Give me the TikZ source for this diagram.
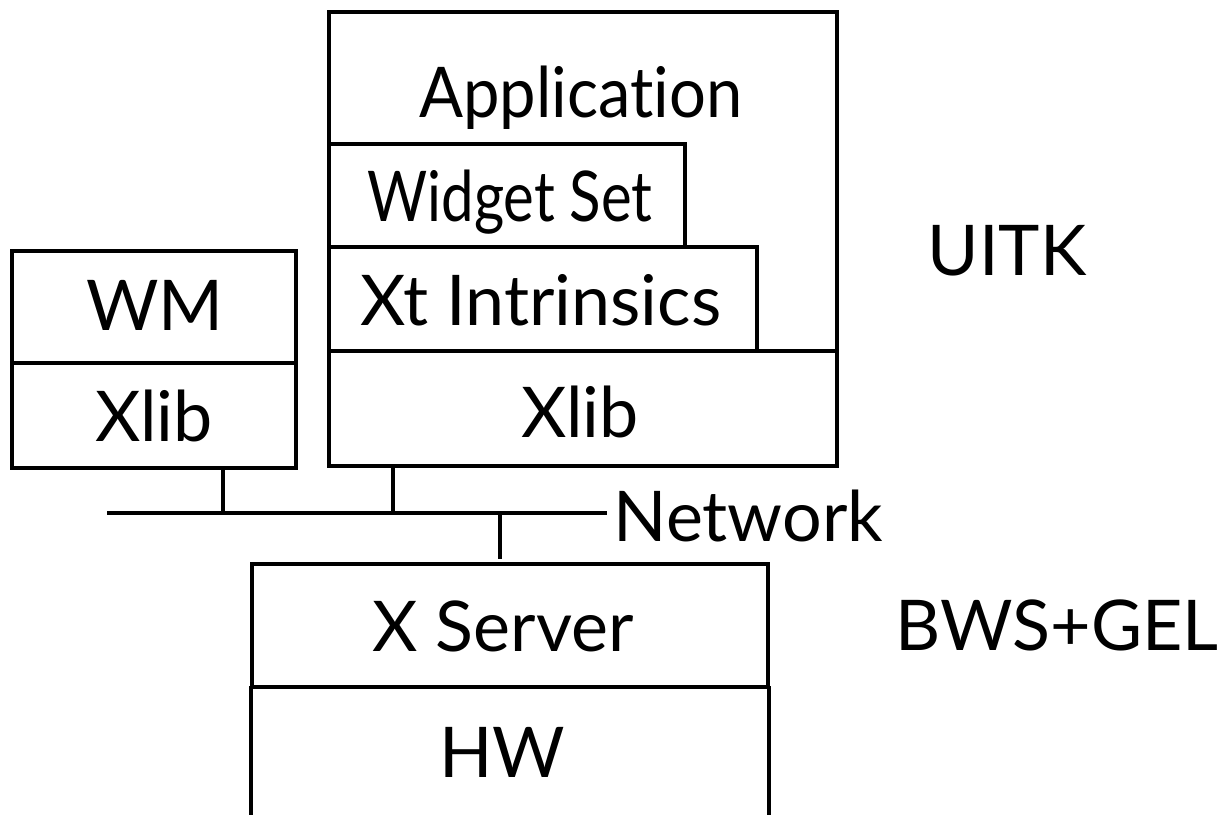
\documentclass[tikz,border=0pt]{standalone}
\usepackage{graphicx}
\usepackage{fontspec}
\setmainfont{Lato}[Ligatures=NoCommon]
\usetikzlibrary{fit}
\begin{document}
\begin{tikzpicture}[x=0.01cm,y=-0.01cm,
  lw/.style={line width=1.15pt},
  box/.style={draw,lw,inner sep=0pt,rectangle},
  area/.style={inner sep=0pt,rectangle},
  lbl/.style={inner sep=0pt,anchor=base,font=\fontsize{19.9pt}{22pt}\selectfont},
  conn/.style={lw}]
\useasboundingbox (0,0) rectangle (1224,815);
% client with toolkit
\node[box,fit={(329,12)(837,351)}] (app) {};
\node[box,fit={(329,144)(685,247)}] (widget) {};
\node[box,fit={(329,247)(757,351)}] (xt) {};
\node[box,fit={(329,351)(837,466)}] (xlibR) {};
% window manager
\node[box,fit={(12,251)(296,363)}] (wm) {};
\node[box,fit={(12,363)(296,468)}] (xlibL) {};
% server
\node[box,fit={(252,564)(768,687)}] (xserv) {};
\node[area,fit={(252,687)(768,815)}] (hw) {};
\draw[conn] (hw.south west) -- (hw.north west);
\draw[conn] (hw.north east) -- (hw.south east);
% labels
\node[lbl] (tApp) at (581,117) {\scalebox{0.93}[1]{Application}};
\node[lbl] (tWidget) at (510,221) {\scalebox{0.83}[1]{Widget Set}};
\node[lbl] (tXt) at (541,325) {Xt Intrinsics};
\node[lbl] (tXlibR) at (580,437) {Xlib};
\node[lbl] (tWM) at (155,330) {WM};
\node[lbl] (tXlibL) at (154,441) {Xlib};
\node[lbl] (tXserv) at (503,651) {X Server};
\node[lbl] (tHW) at (502,777) {HW};
\node[lbl] (tUITK) at (1007,275) {UITK};
\node[lbl] (tBWS) at (1057,650) {BWS+GEL};
% network
\coordinate (netL) at (107,513);
\coordinate (netR) at (607,513);
\node[lbl,anchor=base west] (tNet) at (613,541) {Network};
\draw[conn] (netL) -- (netR);
\coordinate (n1) at (223,513);
\coordinate (n2) at (393,513);
\coordinate (n3) at (500,513);
\coordinate (n3e) at (500,559);
\draw[conn] (n1 |- xlibL.south) -- (n1);
\draw[conn] (n2 |- xlibR.south) -- (n2);
\draw[conn] (n3) -- (n3e);
\end{tikzpicture}
\end{document}
